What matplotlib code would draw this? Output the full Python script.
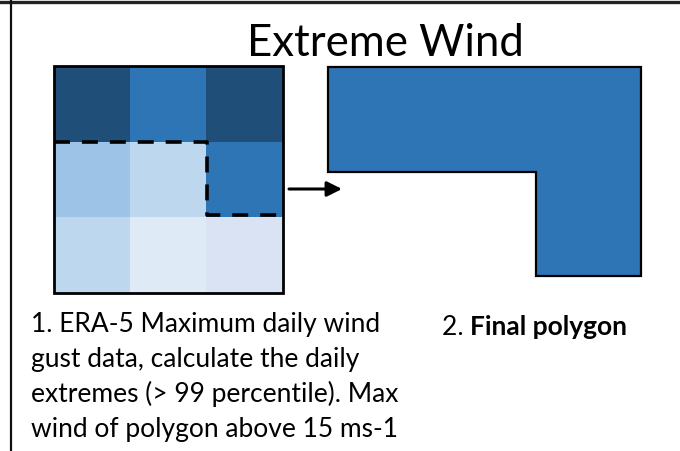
import matplotlib
matplotlib.use("Agg")
import matplotlib.pyplot as plt
import numpy as np
from matplotlib.colors import to_rgb
from matplotlib.patches import Rectangle, Polygon
from matplotlib.transforms import offset_copy

plt.rcParams['font.family'] = ['Lato', 'DejaVu Sans']
plt.rcParams['lines.scale_dashes'] = False

# data
title = "Extreme Wind"
cell_colors = [["#1f4e79", "#2e75b6", "#1f4e79"],
               ["#9dc3e6", "#bdd7ee", "#2e75b6"],
               ["#bdd7ee", "#deebf7", "#dae3f3"]]
step1_lines = ["1. ERA-5 Maximum daily wind",
               "gust data, calculate the daily",
               "extremes (> 99 percentile). Max",
               "wind of polygon above 15 ms-1"]
step2_prefix = "2. "
step2_bold = "Final polygon"
poly_color = "#2e75b6"

fig = plt.figure(figsize=(6.8, 4.51), dpi=100)
ax = fig.add_axes([0, 0, 1, 1])

# frame lines
ax.plot([0, 680], [2, 2], color='#222222', lw=2.4)
ax.plot([11, 11], [0, 451], color='#111111', lw=1.6)

# title
ax.text(385, 56, title, fontsize=31.5, ha='center', va='baseline')

# grid of cells
gx0, gx1, gy0, gy1 = 54, 283, 66, 293
rgb = np.array([[to_rgb(c) for c in row] for row in cell_colors])
ax.imshow(rgb, extent=(gx0, gx1, gy1, gy0), interpolation='nearest', aspect='auto', zorder=1)
ax.add_patch(Rectangle((gx0, gy0), gx1 - gx0, gy1 - gy0, fill=False, ec='black', lw=2.0, zorder=3))

# dashed outline of the extreme cells
cw = (gx1 - gx0) / 3
ch = (gy1 - gy0) / 3
ax.plot([gx0, gx0 + 2 * cw, gx0 + 2 * cw, gx1],
        [gy0 + ch, gy0 + ch, gy0 + 2 * ch - 2, gy0 + 2 * ch - 2],
        color='black', lw=2.6, linestyle=(0, (11.5, 8.6)), zorder=4)

# arrow
ax.annotate('', xy=(342, 189), xytext=(289, 189),
            arrowprops=dict(arrowstyle='-|>,head_length=0.9,head_width=0.45',
                            color='black', lw=2.2, shrinkA=0, shrinkB=0))

# final polygon
verts = [(328, 67), (641, 67), (641, 276), (536, 276), (536, 172), (328, 172)]
ax.add_patch(Polygon(verts, closed=True, fc=poly_color, ec='black', lw=1.6, zorder=2))

ax.set_xlim(0, 680)
ax.set_ylim(451, 0)
ax.axis('off')

# captions
for i, line in enumerate(step1_lines):
    ax.text(31, 332 + i * 35, line, fontsize=19, ha='left', va='baseline')

t = ax.text(442, 335, step2_prefix, fontsize=19, ha='left', va='baseline')
fig.canvas.draw()
w = t.get_window_extent().width
ax.text(442, 335, step2_bold, fontsize=19, fontweight='bold', ha='left', va='baseline',
        transform=offset_copy(ax.transData, fig=fig, x=w, y=0, units='dots'))

fig.savefig("out.png", dpi=100)
